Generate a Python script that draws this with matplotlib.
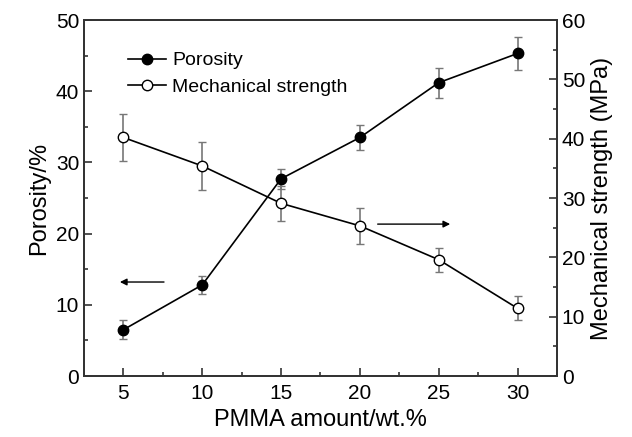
import numpy as np
import matplotlib.pyplot as plt
from matplotlib.lines import Line2D
from matplotlib.ticker import MultipleLocator

plt.rcParams['font.family'] = ['Liberation Sans', 'DejaVu Sans']

# data
pmma = [5, 10, 15, 20, 25, 30]
porosity = [6.5, 12.8, 27.7, 33.5, 41.2, 45.3]
porosity_err = [1.3, 1.3, 1.4, 1.7, 2.1, 2.3]
strength = [40.2, 35.4, 29.1, 25.3, 19.6, 11.4]
strength_err = [4.0, 4.0, 3.0, 3.0, 2.0, 2.0]

fig = plt.figure(figsize=(6.32, 4.37), dpi=100)
ax = fig.add_axes([84/632, 1-376/437, (557-84)/632, (376-20)/437])
ax2 = ax.twinx()

ms = 7.5
ax.errorbar(pmma, porosity, yerr=porosity_err, color='black', marker='o',
            ms=ms, mfc='black', mec='black', lw=1.2, ecolor='#777777',
            elinewidth=1.2, capsize=3, zorder=3)
ax2.errorbar(pmma, strength, yerr=strength_err, color='black', marker='o',
             ms=ms, mfc='white', mec='black', lw=1.2, ecolor='#777777',
             elinewidth=1.2, capsize=3, zorder=3)

ax.set_xlim(2.5, 32.5)
ax.set_ylim(0, 50)
ax2.set_ylim(0, 60)
ax.xaxis.set_major_locator(MultipleLocator(5))
ax.xaxis.set_minor_locator(MultipleLocator(2.5))
ax.yaxis.set_major_locator(MultipleLocator(10))
ax.yaxis.set_minor_locator(MultipleLocator(5))
ax2.yaxis.set_major_locator(MultipleLocator(10))
ax2.yaxis.set_minor_locator(MultipleLocator(5))

for a in (ax, ax2):
    a.tick_params(which='both', direction='in', labelsize=15, width=1.2,
                  color='#333333')
    a.tick_params(which='major', length=6)
    a.tick_params(which='minor', length=3)
    for s in a.spines.values():
        s.set_linewidth(1.3)
        s.set_color('#333333')
ax.tick_params(axis='x', pad=6)

ax.set_xlabel('PMMA amount/wt.%', fontsize=17)
ax.set_ylabel('Porosity/%', fontsize=17)
ax2.set_ylabel('Mechanical strength (MPa)', fontsize=17)

# arrows pointing to the axes
ax.annotate('', xy=(4.6, 13.2), xytext=(7.75, 13.2),
            arrowprops=dict(arrowstyle='-|>', color='black', lw=1, mutation_scale=10))
ax2.annotate('', xy=(25.9, 25.6), xytext=(20.95, 25.6),
             arrowprops=dict(arrowstyle='-|>', color='black', lw=1, mutation_scale=10))

handles = [
    Line2D([], [], color='black', lw=1.2, marker='o', ms=ms, mfc='black', mec='black'),
    Line2D([], [], color='black', lw=1.2, marker='o', ms=ms, mfc='white', mec='black'),
]
ax.legend(handles, ['Porosity', 'Mechanical strength'], loc='upper left',
          bbox_to_anchor=(0.055, 0.96), frameon=False, fontsize=14,
          handlelength=2.0, handletextpad=0.3, labelspacing=0.45)

fig.savefig('out.png', dpi=100)
